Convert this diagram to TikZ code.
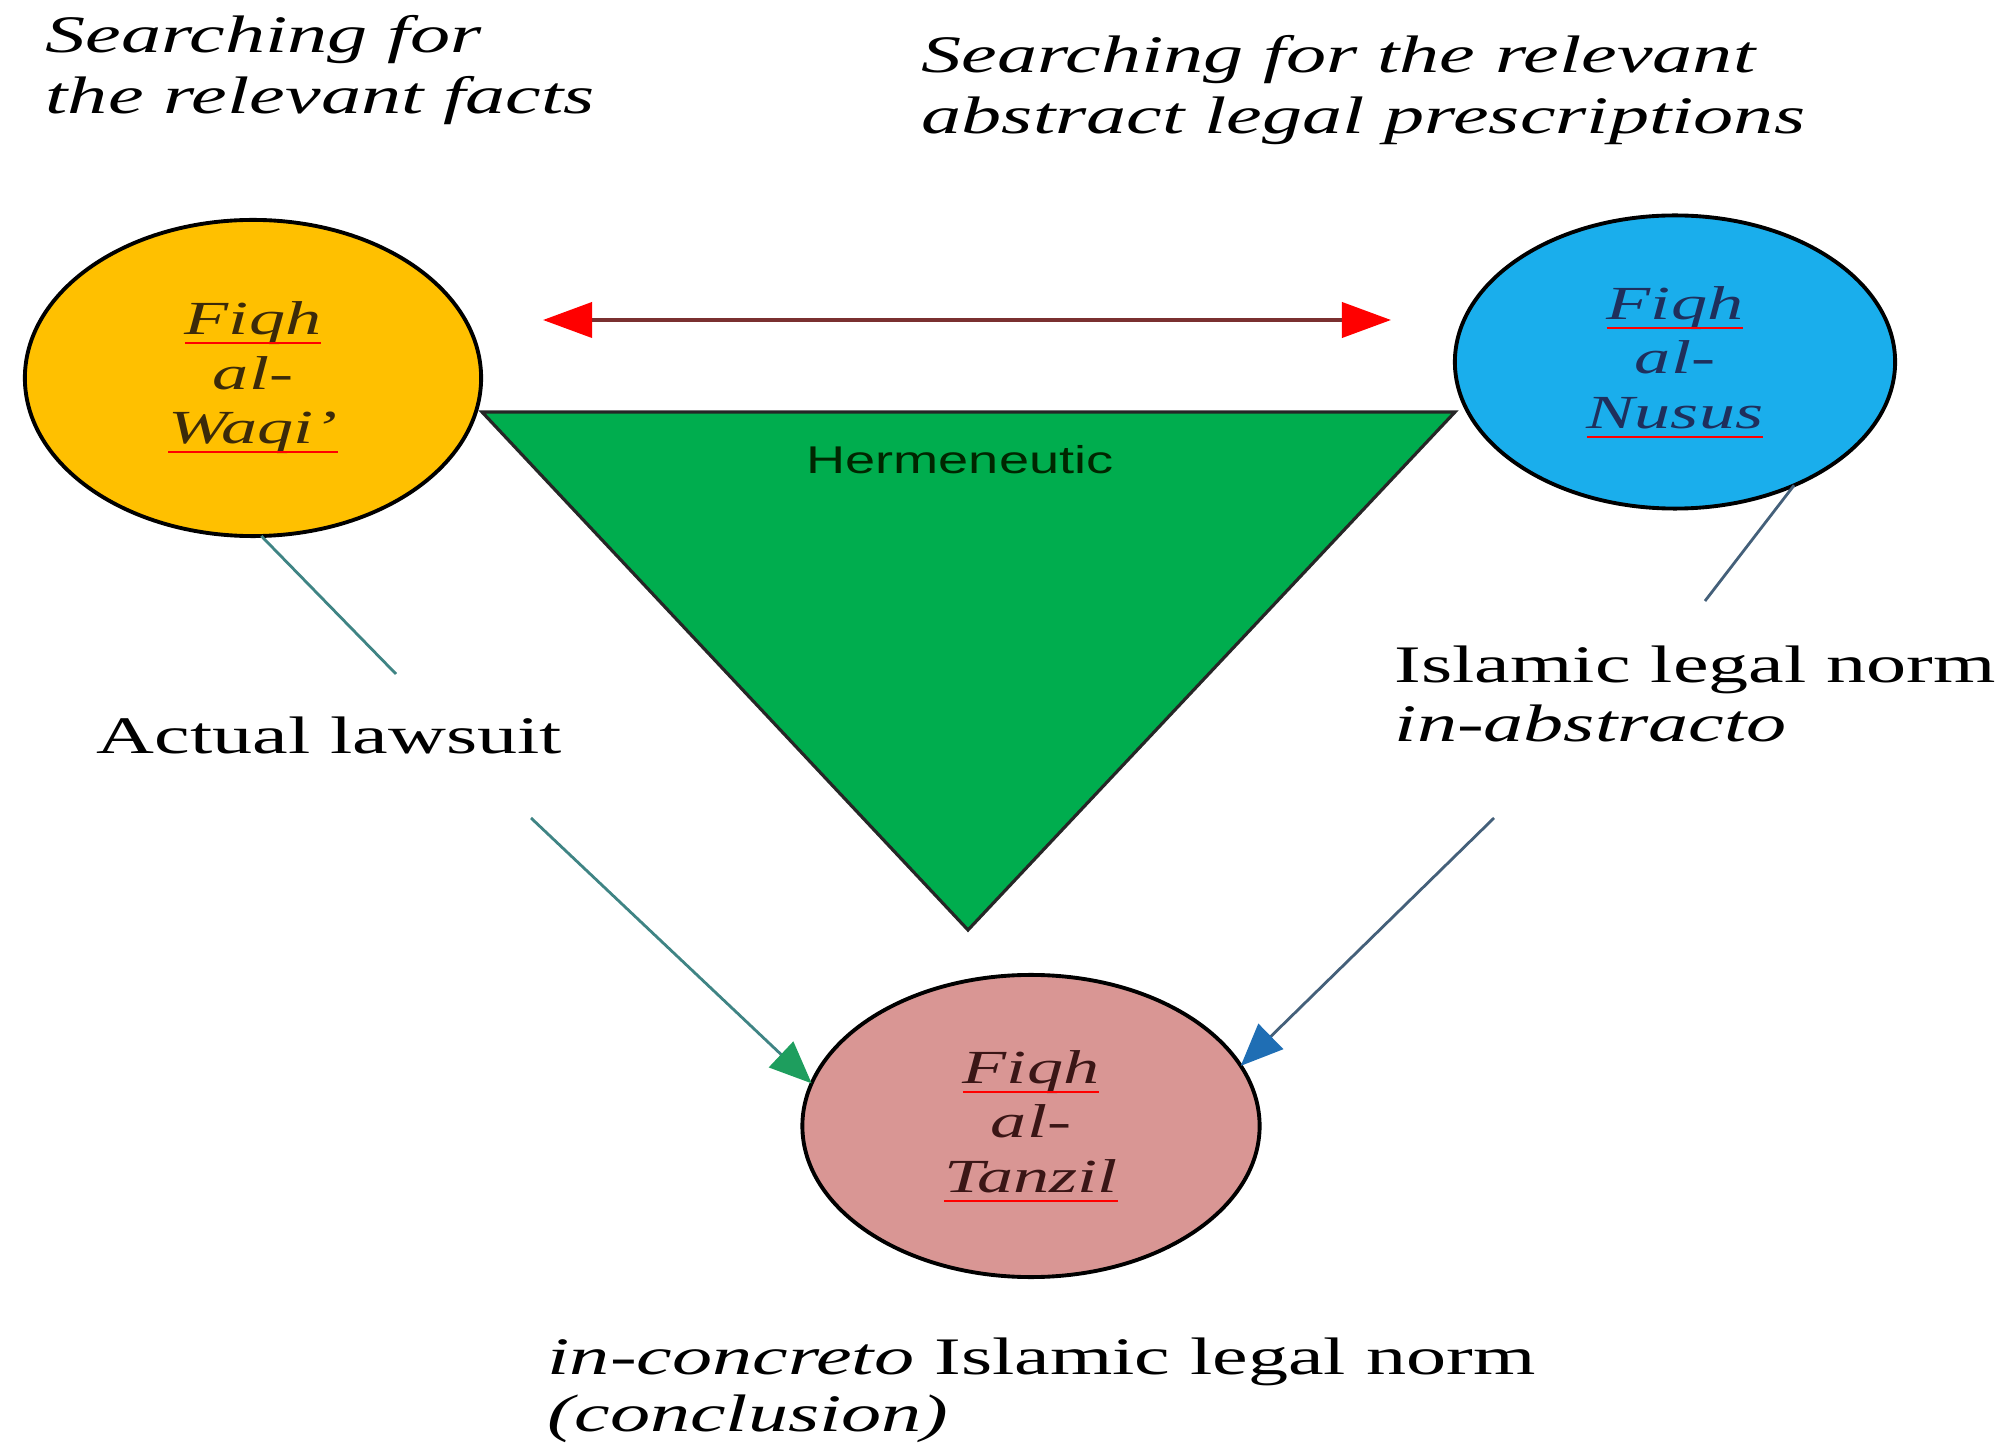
\documentclass[tikz,border=0pt]{standalone}
\usepackage{fontspec}
\setmainfont[FakeStretch=1.52]{Liberation Serif}
\newfontfamily\hermfont[FakeStretch=1.4]{Liberation Sans}
\usetikzlibrary{shapes.geometric, positioning, arrows.meta}

\definecolor{waqigold}{HTML}{FFC000}
\definecolor{nususblue}{HTML}{1AAEEC}
\definecolor{tanzilpink}{HTML}{D99694}
\definecolor{hermgreen}{HTML}{00AD4E}
\definecolor{waqitext}{HTML}{3B2A0A}
\definecolor{nusustext}{HTML}{1F2F5C}
\definecolor{tanziltext}{HTML}{3A1616}
\definecolor{linkteal}{HTML}{3F8484}
\definecolor{linkslate}{HTML}{44607A}
\definecolor{headgreen}{HTML}{1E9E5E}
\definecolor{headblue}{HTML}{1F6EB4}
\definecolor{redline}{HTML}{7A3030}

% red spell-check style underline, text keeps its own colour
\newsavebox{\ulword}
\newcommand{\redul}[2]{\sbox{\ulword}{\color{#1}#2}\usebox{\ulword}\llap{\color{red}\rule[-0.2em]{\wd\ulword}{0.6pt}}}

\begin{document}
\begin{tikzpicture}[x=0.01cm, y=-0.01cm,
  font=\fontsize{15}{17}\selectfont,
  fiqh/.style={ellipse, draw=black, line width=1.1pt, inner sep=0pt, outer sep=0pt,
    align=center, font=\fontsize{13.5}{15.5}\selectfont\itshape},
  nobox/.style={draw=none, fill=none, align=left, inner sep=0pt},
  feed/.style={line width=0.8pt}]

\useasboundingbox (0,0) rectangle (2005,1446);

% Hermeneutic triangle (drawn first, circles lie over its corners)
\coordinate (TL) at (482,412); \coordinate (TR) at (1455,412); \coordinate (TB) at (968,930);
\filldraw[fill=hermgreen, draw=black!85, line width=0.9pt] (TL) -- (TR) -- (TB) -- cycle;
\node[font=\hermfont\fontsize{11}{13}\selectfont, text=black!85!green] (herm) at (960,460) {Hermeneutic};

% The three circles
\node[fiqh, fill=waqigold, minimum width=4.56cm, minimum height=3.16cm] (waqi) at (253,378)
  {\redul{waqitext}{Fiqh}\\ \textcolor{waqitext}{al-}\\ \redul{waqitext}{Waqi’}};
\node[fiqh, fill=nususblue, minimum width=4.40cm, minimum height=2.93cm] (nusus) at (1675,362)
  {\redul{nusustext}{Fiqh}\\ \textcolor{nusustext}{al-}\\ \redul{nusustext}{Nusus}};
\node[fiqh, fill=tanzilpink, minimum width=4.57cm, minimum height=3.02cm] (tanzil) at (1031,1126)
  {\redul{tanziltext}{Fiqh}\\ \textcolor{tanziltext}{al-}\\ \redul{tanziltext}{Tanzil}};

% Labels
\node[nobox, anchor=west, font=\fontsize{15}{17.5}\selectfont\itshape] (factslbl) at (45,70)
  {Searching for\\the relevant facts};
\node[nobox, anchor=west, font=\fontsize{15}{17.5}\selectfont\itshape] (textslbl) at (921,90)
  {Searching for the relevant\\abstract legal prescriptions};
\node[nobox, anchor=west] (lawsuit) at (96,735) {Actual lawsuit};
\node[nobox, anchor=west] (abstractlbl) at (1394,694) {Islamic legal norm\\\textit{in-abstracto}};
\node[nobox, anchor=south west, font=\fontsize{15}{16}\selectfont] (concretelbl) at (547,1443)
  {\textit{in-concreto} Islamic legal norm\\\textit{(conclusion)}};

% Free ends of the connectors
\coordinate (redL) at (543,320); \coordinate (redR) at (1391,320);
\coordinate (lawtop) at (396,674); \coordinate (lawbot) at (531,818);
\coordinate (normtop) at (1705,601); \coordinate (normbot) at (1494,818);

% Connectors
\draw[line width=1.1pt, redline, {Triangle[length=14pt, width=10pt, color=red]}-{Triangle[length=14pt, width=10pt, color=red]}]
  (redL) -- (redR);
\draw[feed, linkteal] (waqi.273) -- (lawtop);
\draw[feed, linkteal, -{Triangle[length=12pt, width=10pt, color=headgreen]}] (lawbot) -- (tanzil.169);
\draw[feed, linkslate] (nusus.314) -- (normtop);
\draw[feed, linkslate, -{Triangle[length=12pt, width=10pt, color=headblue]}] (normbot) -- (tanzil.16);

\end{tikzpicture}
\end{document}
